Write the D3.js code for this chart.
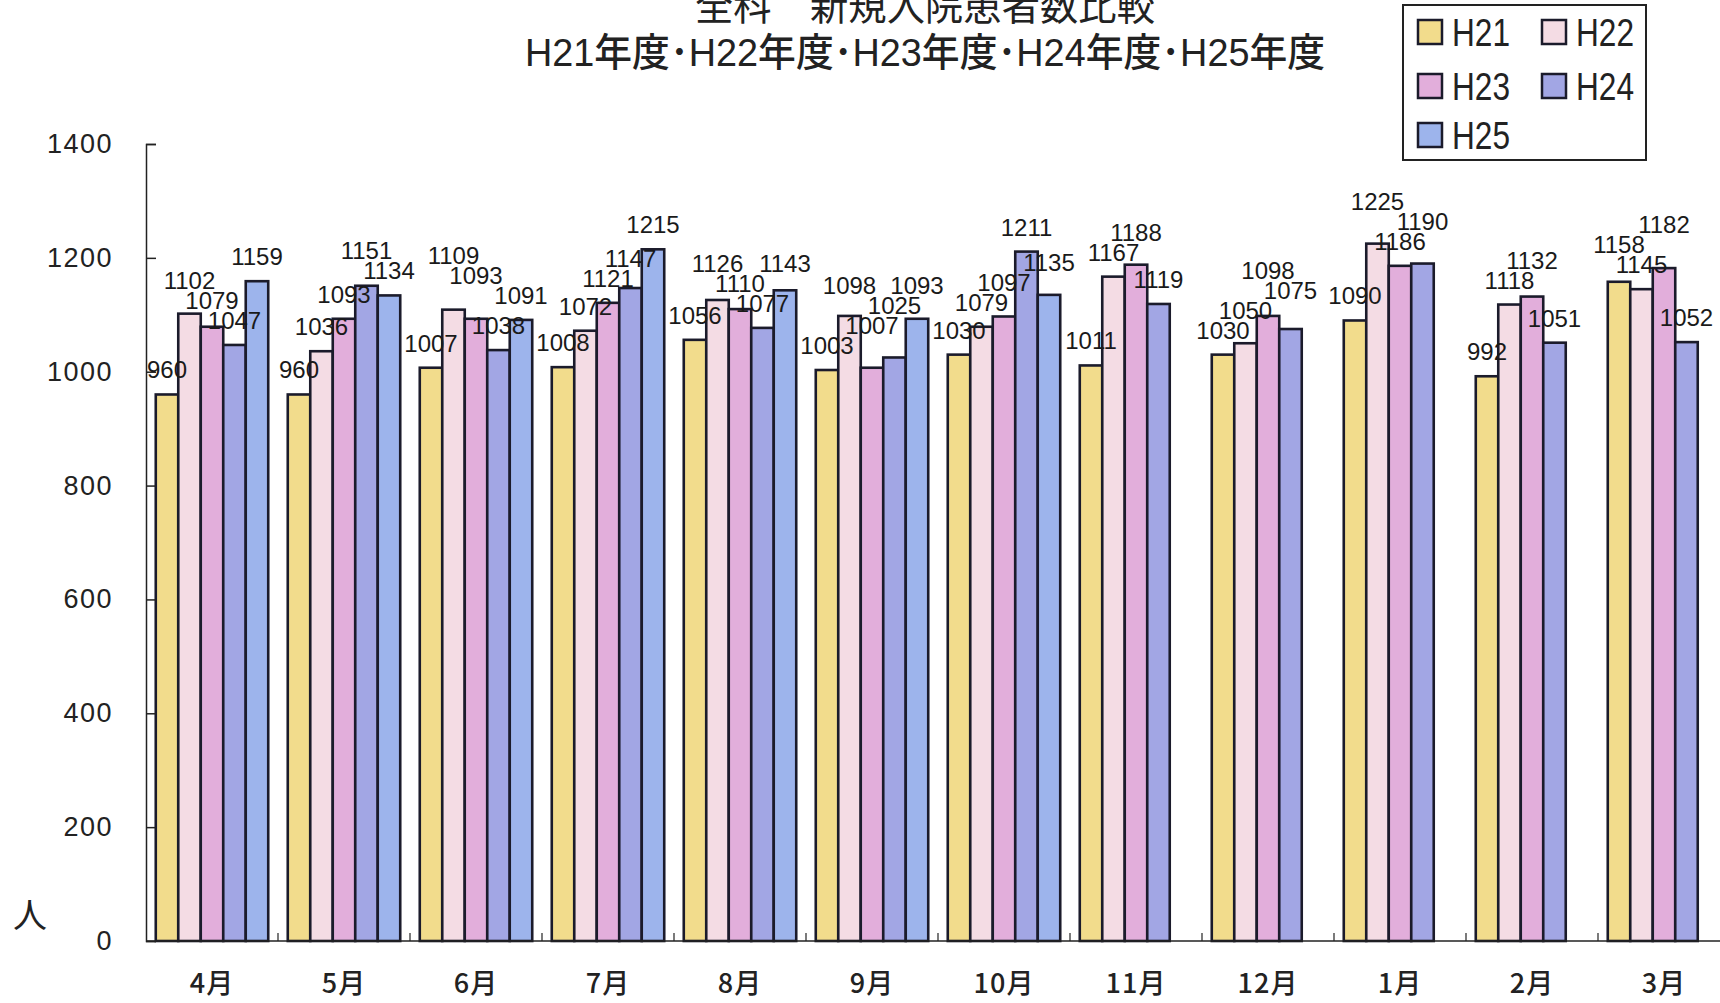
<!DOCTYPE html>
<html><head><meta charset="utf-8">
<script src="https://cdn.jsdelivr.net/npm/d3@7"></script>
<style>
html,body{margin:0;padding:0;background:#fff;}
svg{display:block;}
</style></head>
<body>
<svg id="chart" width="1720" height="1003"></svg>
<script>
const months = ["4月","5月","6月","7月","8月","9月","10月","11月","12月","1月","2月","3月"];
const seriesNames = ["H21","H22","H23","H24","H25"];
const h21 = [960,960,1007,1008,1056,1003,1030,1011,1030,1090,992,1158];
const h22 = [1102,1036,1109,1072,1126,1098,1079,1167,1050,1225,1118,1145];
const h23 = [1079,1093,1093,1121,1110,1007,1097,1188,1098,1186,1132,1182];
const h24 = [1047,1151,1038,1147,1077,1025,1211,1119,1075,1190,1051,1052];
const h25 = [1159,1134,1091,1215,1143,1093,1135,null,null,null,null,null];
const yTicks = [0,200,400,600,800,1000,1200,1400];
const titleLine1 = "全科　新規入院患者数比較";
const titleLine2 = "H21年度･H22年度･H23年度･H24年度･H25年度";
const yUnit = "人";

const seriesValues = [h21,h22,h23,h24,h25];
const colors = ["#f2dc8c","#f4dce4","#e2aedb","#a2a6e4","#9db4ec"];

const svg = d3.select("#chart");
const pLeft = 146, pRight = 1730, pTop = 144, pBottom = 941;

const x0 = d3.scaleBand().domain(months).range([pLeft, pRight]).paddingInner(0.148).paddingOuter(0.074);
const x1 = d3.scaleBand().domain(seriesNames).range([0, x0.bandwidth()]).padding(0);
const y = d3.scaleLinear().domain([0,1400]).range([pBottom, pTop]);

const data = [];
months.forEach((m,i)=>{
  seriesNames.forEach((s,j)=>{
    const v = seriesValues[j][i];
    if (v !== null && v !== undefined) data.push({m, s, v, j});
  });
});

// bars
svg.append("g").selectAll("rect").data(data).join("rect")
  .attr("x", d => x0(d.m) + x1(d.s))
  .attr("y", d => y(d.v))
  .attr("width", x1.bandwidth())
  .attr("height", d => y(0) - y(d.v))
  .attr("fill", d => colors[d.j])
  .attr("stroke", "#1b1b2b")
  .attr("stroke-width", 2.6);

// y axis
const yAxis = d3.axisRight(y).tickValues(yTicks).tickSize(10).tickFormat("");
const gy = svg.append("g").attr("transform", `translate(${pLeft},0)`).call(yAxis);
gy.select(".domain").attr("stroke","#222").attr("stroke-width",1.5);
gy.selectAll(".tick line").attr("stroke","#222").attr("stroke-width",1.5);

svg.append("g").selectAll("text").data(yTicks).join("text")
  .attr("x", 113).attr("y", d => y(d))
  .attr("text-anchor","end").attr("dominant-baseline","central")
  .attr("font-family","Liberation Sans, Arial, sans-serif")
  .attr("font-size", 27).attr("letter-spacing", 1.5)
  .attr("fill","#222").text(d => d);

// x axis baseline with boundary ticks
svg.append("line").attr("x1",pLeft).attr("x2",1720).attr("y1",pBottom).attr("y2",pBottom)
  .attr("stroke","#222").attr("stroke-width",1.5);
const boundaries = months.map(m => x0(m) - x0.step()*x0.paddingInner()/2).slice(1);
svg.append("g").selectAll("line").data(boundaries).join("line")
  .attr("x1", d=>d).attr("x2", d=>d).attr("y1", pBottom-8).attr("y2", pBottom)
  .attr("stroke","#222").attr("stroke-width",1.2);

svg.append("g").selectAll("text").data(months).join("text")
  .attr("x", d => x0(d) + x0.bandwidth()/2).attr("y", 981)
  .attr("text-anchor","middle").attr("dominant-baseline","central")
  .attr("font-family","'Noto Sans CJK JP', sans-serif")
  .attr("font-size", 27).attr("font-weight", 500).attr("letter-spacing", 1)
  .attr("fill","#222").text(d => d);

// data labels: above each bar; within a month, higher values are lifted when they collide
data.forEach(d => { d.lx = x0(d.m) + x1(d.s) + x1.bandwidth()/2; d.ly = y(d.v) - 16; });
months.forEach(m => {
  const g = data.filter(d => d.m === m).sort((a,b) => a.v - b.v);
  const placed = [];
  g.forEach(d => {
    let moved = true;
    while (moved) {
      moved = false;
      for (const p of placed) {
        if (Math.abs(d.lx - p.lx) < 48 && Math.abs(d.ly - p.ly) < 20) {
          d.ly = p.ly - 20; moved = true;
        }
      }
    }
    placed.push(d);
  });
});
svg.append("g").selectAll("text").data(data).join("text")
  .attr("x", d => d.lx)
  .attr("y", d => d.ly)
  .attr("text-anchor","middle")
  .attr("font-family","Liberation Sans, Arial, sans-serif")
  .attr("font-size", 24)
  .attr("fill","#1a1a1a").text(d => d.v);

// unit label
svg.append("text").attr("x", 30).attr("y", 913)
  .attr("text-anchor","middle").attr("dominant-baseline","central")
  .attr("font-family","'Noto Sans CJK JP', sans-serif").attr("font-size", 34)
  .attr("fill","#222").text(yUnit);

// title
svg.append("text").attr("x", 925).attr("y", 20)
  .attr("text-anchor","middle")
  .attr("font-family","'Noto Sans CJK JP', sans-serif").attr("font-size", 40)
  .attr("textLength", 460).attr("lengthAdjust","spacingAndGlyphs")
  .attr("fill","#222").text(titleLine1);
svg.append("text").attr("x", 925).attr("y", 66)
  .attr("text-anchor","middle")
  .attr("font-family","Liberation Sans, 'Noto Sans CJK JP', sans-serif").attr("font-size", 39)
  .attr("font-weight", 500)
  .attr("textLength", 800).attr("lengthAdjust","spacingAndGlyphs")
  .attr("fill","#222").text(titleLine2);

// legend
const lg = svg.append("g");
lg.append("rect").attr("x",1403).attr("y",5).attr("width",243).attr("height",155)
  .attr("fill","#fff").attr("stroke","#222").attr("stroke-width",2);
const legPos = [[1418,32],[1542,32],[1418,86],[1542,86],[1418,135]];
seriesNames.forEach((s,j)=>{
  const [lx,ly] = legPos[j];
  lg.append("rect").attr("x",lx).attr("y",ly-12).attr("width",24).attr("height",24)
    .attr("fill",colors[j]).attr("stroke","#1b1b2b").attr("stroke-width",2.5);
  lg.append("text").attr("x",lx+34).attr("y",ly+1).attr("dominant-baseline","central")
    .attr("font-family","Liberation Sans, Arial, sans-serif").attr("font-size",38)
    .attr("textLength",58).attr("lengthAdjust","spacingAndGlyphs")
    .attr("fill","#222").text(s);
});
</script>
</body></html>
